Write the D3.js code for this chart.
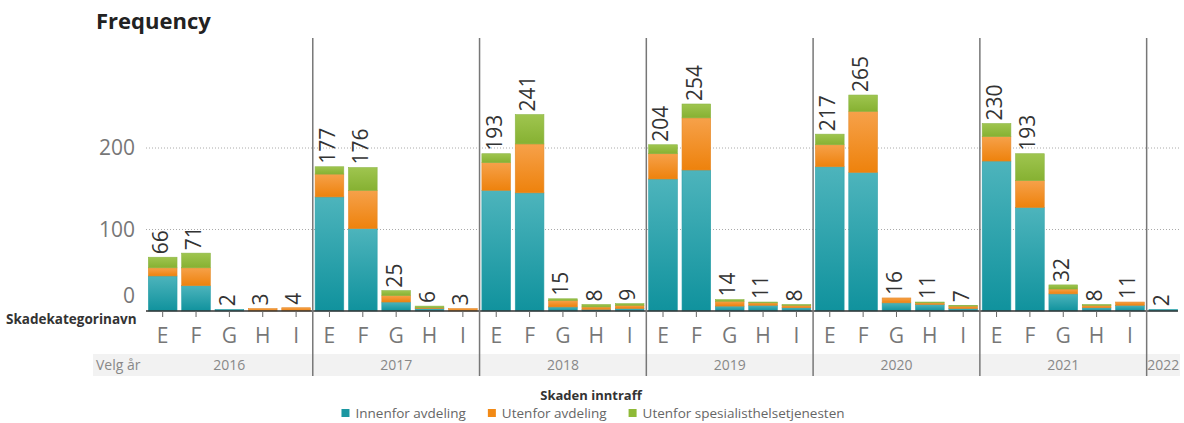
<!DOCTYPE html>
<html>
<head>
<meta charset="utf-8">
<script src="https://cdn.jsdelivr.net/npm/d3@7"></script>
<style>
  body { margin: 0; background: #fff; }
  svg { display: block; font-family: 'Open Sans', sans-serif; }
</style>
</head>
<body>
<div id="chart"></div>
<script>
// Years along the bottom, categories under each year
const years = ['2016', '2017', '2018', '2019', '2020', '2021', '2022'];
const categories = [
  ['E', 'F', 'G', 'H', 'I'],
  ['E', 'F', 'G', 'H', 'I'],
  ['E', 'F', 'G', 'H', 'I'],
  ['E', 'F', 'G', 'H', 'I'],
  ['E', 'F', 'G', 'H', 'I'],
  ['E', 'F', 'G', 'H', 'I'],
  ['']
];

// Stack series, flattened year by year in the order above
const innenfor = [43, 31, 2, 0, 0,  140, 101, 11, 3, 0,  148, 145, 5, 2, 3,  162, 173, 6, 7, 4,  177, 170, 10, 8, 3,  184, 127, 21, 4, 7,  2];
const utenfor  = [10, 22, 0, 3, 4,  28, 47, 8, 1, 3,  34, 60, 8, 3, 4,  31, 64, 6, 3, 3,  27, 75, 6, 2, 3,  30, 33, 6, 3, 4,  0];
const spesial  = [13, 18, 0, 0, 0,  9, 28, 6, 2, 0,  11, 36, 2, 3, 2,  11, 17, 2, 1, 1,  13, 20, 0, 1, 1,  16, 33, 5, 1, 0,  0];

const seriesNames = ['Innenfor avdeling', 'Utenfor avdeling', 'Utenfor spesialisthelsetjenesten'];
const yTicks = [0, 100, 200];

const W = 1184, H = 423;
const PLOT = { left: 146, right: 1180, top: 38, bottom: 311 };
const colors = {
  inn: { top: '#4db4bc', bottom: '#10929d', legend: '#1b97a1', stroke: '#2a9fa8' },
  ut:  { top: '#f6a14a', bottom: '#ee820c', legend: '#f28a16', stroke: '#e48a2a' },
  sp:  { top: '#9fc54f', bottom: '#86b132', legend: '#8fba37', stroke: '#8cb646' }
};
const keys = ['inn', 'ut', 'sp'];

// Build rows
const rows = [];
let idx = 0;
years.forEach((yr, yi) => {
  categories[yi].forEach((cat, ci) => {
    rows.push({ id: `${yr}-${ci}`, year: yr, cat, inn: innenfor[idx], ut: utenfor[idx], sp: spesial[idx] });
    idx++;
  });
});
rows.forEach(r => { r.total = r.inn + r.ut + r.sp; });

const svg = d3.select('#chart').append('svg')
  .attr('width', W).attr('height', H);

// Gradients
const defs = svg.append('defs');
keys.forEach(k => {
  const lg = defs.append('linearGradient').attr('id', `grad-${k}`)
    .attr('x1', 0).attr('y1', 0).attr('x2', 0).attr('y2', 1);
  lg.append('stop').attr('offset', '0%').attr('stop-color', colors[k].top);
  lg.append('stop').attr('offset', '100%').attr('stop-color', colors[k].bottom);
});

const x = d3.scaleBand().domain(rows.map(r => r.id)).range([PLOT.left, PLOT.right]).padding(0);
const y = d3.scaleLinear().domain([0, 335]).range([PLOT.bottom, PLOT.top]);
const bw = x.bandwidth();

// Title
svg.append('text').attr('x', 96).attr('y', 29)
  .style('font-size', '22px').style('font-weight', '700').attr('fill', '#222')
  .text('Frequency');

// Year strip background
svg.append('rect').attr('x', 93).attr('y', 354).attr('width', PLOT.right - 93).attr('height', 22)
  .attr('fill', '#f2f2f2');

// Gridlines
svg.append('g').selectAll('line').data(yTicks.filter(d => d > 0)).join('line')
  .attr('x1', PLOT.left).attr('x2', PLOT.right)
  .attr('y1', d => y(d)).attr('y2', d => y(d))
  .attr('stroke', '#aaa').attr('stroke-width', 1).attr('stroke-dasharray', '1,2');

// Y tick labels
svg.append('g').selectAll('text').data(yTicks).join('text')
  .attr('x', 135).attr('y', d => d === 0 ? y(d) - 15 : y(d))
  .attr('dy', '0.35em').attr('text-anchor', 'end')
  .style('font-size', '21px').attr('fill', '#777')
  .text(d => d);

// Stacked bars
const stack = d3.stack().keys(keys);
const stacked = stack(rows);
const barPad = bw * 0.07;
svg.append('g').selectAll('g').data(stacked).join('g')
  .attr('fill', d => `url(#grad-${d.key})`)
  .attr('stroke', d => colors[d.key].stroke)
  .attr('stroke-width', 0.6)
  .selectAll('rect').data(d => d.filter(s => s[1] - s[0] > 0)).join('rect')
  .attr('x', d => x(d.data.id) + barPad)
  .attr('width', bw - barPad * 2)
  .attr('y', d => y(d[1]))
  .attr('height', d => y(d[0]) - y(d[1]));

// Value labels (rotated)
svg.append('g').selectAll('text').data(rows).join('text')
  .attr('transform', d => `translate(${x(d.id) + bw / 2 - 2},${y(d.total) - 3}) rotate(-90)`)
  .attr('dy', '0.35em')
  .style('font-size', '21px').attr('fill', '#333')
  .text(d => d.total);

// Baseline
svg.append('line').attr('x1', PLOT.left).attr('x2', PLOT.right - 2)
  .attr('y1', PLOT.bottom).attr('y2', PLOT.bottom)
  .attr('stroke', '#333').attr('stroke-width', 1.5);

// Category ticks and labels
const tickRows = rows.filter(r => r.cat !== '');
svg.append('g').selectAll('line').data(tickRows).join('line')
  .attr('x1', d => x(d.id) + bw / 2).attr('x2', d => x(d.id) + bw / 2)
  .attr('y1', PLOT.bottom).attr('y2', PLOT.bottom + 6)
  .attr('stroke', '#666').attr('stroke-width', 1);
svg.append('g').selectAll('text').data(tickRows).join('text')
  .attr('x', d => x(d.id) + bw / 2).attr('y', 343)
  .attr('text-anchor', 'middle')
  .style('font-size', '21px').attr('fill', '#777')
  .text(d => d.cat);

// Year separators
const groupStarts = years.map(yr => x(rows.find(r => r.year === yr).id));
svg.append('g').selectAll('line').data(groupStarts.slice(1)).join('line')
  .attr('x1', d => d).attr('x2', d => d)
  .attr('y1', PLOT.top).attr('y2', 376)
  .attr('stroke', '#777').attr('stroke-width', 1.5);

// Year labels
svg.append('g').selectAll('text').data(years).join('text')
  .attr('x', yr => {
    const g = rows.filter(r => r.year === yr);
    return (x(g[0].id) + x(g[g.length - 1].id) + bw) / 2;
  })
  .attr('y', 370).attr('text-anchor', 'middle')
  .style('font-size', '14px').attr('fill', '#888')
  .text(d => d);

svg.append('text').attr('x', 96).attr('y', 370)
  .style('font-size', '14px').attr('fill', '#888').text('Velg år');

// Axis title
svg.append('text').attr('x', 6).attr('y', 324)
  .style('font-size', '13.5px').style('font-weight', '700').attr('fill', '#333')
  .text('Skadekategorinavn');

// Legend
const legend = svg.append('g');
legend.append('text').attr('x', 591).attr('y', 400).attr('text-anchor', 'middle')
  .style('font-size', '13px').style('font-weight', '700').attr('fill', '#333')
  .text('Skaden inntraff');
const items = legend.append('g');
let lx = 0;
seriesNames.forEach((name, i) => {
  const it = items.append('g').attr('transform', `translate(${lx},0)`);
  it.append('rect').attr('x', 0).attr('y', -4).attr('width', 8).attr('height', 8)
    .attr('fill', colors[keys[i]].legend);
  const t = it.append('text').attr('x', 14).attr('dy', '0.35em')
    .style('font-size', '13.5px').attr('fill', '#666').text(name);
  lx += 14 + t.node().getComputedTextLength() + 22;
});
const itemsW = lx - 22;
items.attr('transform', `translate(${593 - itemsW / 2},413)`);
</script>
</body>
</html>
